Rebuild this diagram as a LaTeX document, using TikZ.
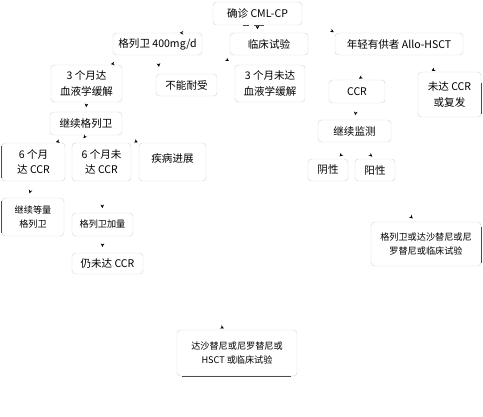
\documentclass[tikz,border=0pt]{standalone}
\usepackage{fontspec}
\newfontfamily\cjk{Noto Sans CJK SC}
\usetikzlibrary{arrows.meta, backgrounds}

\begin{document}
\begin{tikzpicture}[x=0.03cm, y=-0.03cm,
    box/.style={draw=gray!30, rounded corners=3pt, align=center, inner sep=1pt,
        font=\cjk\fontsize{9}{13}\selectfont},
    smallbox/.style={box, font=\cjk\fontsize{7.8}{12}\selectfont},
    link/.style={draw=white, -{Stealth[black, length=3pt, width=3pt]}, shorten >=3pt},
    rim/.style={draw=gray!60!black, line width=0.7pt}]
    \useasboundingbox (0,0) rectangle (483,416);

    % Primer nivel
    \node[box, minimum width=2.67cm, minimum height=0.69cm] (dx) at (257.5,13.5) {确诊 CML-CP};
    \node[box, minimum width=2.67cm, minimum height=0.66cm] (glw) at (157.5,44) {格列卫 400mg/d};
    \node[box, minimum width=2.34cm, minimum height=0.66cm] (lcsy) at (269,44) {临床试验};
    \node[box, minimum width=3.84cm, minimum height=0.66cm] (allo) at (399,44) {年轻有供者 Allo-HSCT};

    % Tres meses
    \node[box, minimum width=2.13cm, minimum height=1.11cm] (hx3) at (86.5,83.5) {3 个月达\\血液学缓解};
    \node[box, minimum width=1.83cm, minimum height=0.66cm] (bnns) at (186.5,85) {不能耐受};
    \node[box, minimum width=2.10cm, minimum height=1.11cm] (whx3) at (270,83.5) {3 个月未达\\血液学缓解};
    \node[box, minimum width=1.68cm, minimum height=0.69cm] (ccr) at (357,91.5) {CCR};
    \node[box, minimum width=1.89cm, minimum height=1.35cm] (wdccr) at (449.5,94.5) {未达 CCR\\或复发};

    % Seguimiento
    \node[box, minimum width=2.16cm, minimum height=0.69cm] (jxglw) at (86,123.5) {继续格列卫};
    \node[box, minimum width=2.19cm, minimum height=0.66cm] (jxjc) at (354.5,131) {继续监测};

    % Seis meses
    \node[box, minimum width=1.89cm, minimum height=1.14cm] (ccr6) at (33.5,162) {6 个月\\达 CCR};
    \node[box, minimum width=1.77cm, minimum height=1.14cm] (wccr6) at (101.5,162) {6 个月未\\达 CCR};
    \node[box, minimum width=2.01cm, minimum height=1.14cm,
        label={[anchor=north, yshift=-0.2cm, font=\cjk\fontsize{9}{13}\selectfont]north:疾病进展}] (jbjz) at (172.5,162) {};
    \node[box, minimum width=1.2cm, minimum height=0.66cm] (yinx) at (328,170) {阴性};
    \node[box, minimum width=1.2cm, minimum height=0.66cm] (yangx) at (375,170) {阳性};

    % Tratamiento
    \node[smallbox, minimum width=1.86cm, minimum height=1.14cm] (dlglw) at (33,217) {继续等量\\格列卫};
    \node[smallbox, minimum width=1.83cm, minimum height=0.69cm] (glwjl) at (102.5,224.5) {格列卫加量};
    \node[box, minimum width=2.13cm, minimum height=0.63cm] (rwd) at (107.5,263.5) {仍未达 CCR};
    \node[smallbox, minimum width=3.3cm, minimum height=1.32cm] (ejzl) at (426,244) {格列卫或达沙替尼或尼\\罗替尼或临床试验};
    \node[smallbox, minimum width=3.6cm, minimum height=1.38cm] (sjzl) at (237,353) {达沙替尼或尼罗替尼或\\HSCT 或临床试验};

    % Bordes oscuros
    \draw[rim] ([xshift=0.9cm]dx.south west) -- ([xshift=1.1cm]dx.south west);
    \draw[rim] ([xshift=1.25cm]dx.south west) -- ([xshift=1.55cm]dx.south west);
    \draw[rim] ([yshift=-3pt]ccr6.north west) -- ([yshift=3pt]ccr6.south west);
    \draw[rim] ([yshift=-3pt]dlglw.north west) -- ([yshift=3pt]dlglw.south west);
    \draw[rim] ([yshift=-0.35cm]wdccr.north east) -- ([yshift=3pt]wdccr.south east);
    \draw[rim] ([yshift=-0.15cm]ejzl.north east) -- ([yshift=3pt]ejzl.south east);
    \draw[rim] ([xshift=0.15cm]sjzl.south west) -- ([xshift=-0.2cm]sjzl.south east);

    % Flechas
    \begin{pgfonlayer}{background}
    \draw[link, shorten >=19pt] (dx.south west) |- (glw.north);
    \draw[link] (dx.south) -- (dx.south |- lcsy.north);
    \draw[link, shorten >=1pt] (dx.east) -- (allo.north west);
    \draw[link] (glw.south) -- ([xshift=0.63cm]hx3.north);
    \draw[link, shorten >=6pt] (glw.south) -- ([xshift=0.12cm]bnns.north west);
    \draw[link, shorten >=6pt] (glw.east) -- (whx3.north west);
    \draw[link, shorten >=2pt] (allo.south) -- (ccr.north);
    \draw[link, shorten >=2pt] (allo.south east) -- ([xshift=-0.6cm]wdccr.north);
    \draw[link, shorten >=4pt] (hx3.south) -- (jxglw.north);
    \draw[link, shorten >=4pt] (ccr.south) -- (jxjc.north);
    \draw[link] (jxglw.south) -- ([xshift=0.57cm]ccr6.north);
    \draw[link, shorten >=5pt] (jxglw.south) -- ([xshift=0.24cm]wccr6.north west);
    \draw[link, shorten >=1pt] (jxglw.south east) -- (jbjz.north west);
    \draw[link] (jxjc.south) -- ([xshift=0.27cm]yinx.north);
    \draw[link] (jxjc.south) -- (yangx.north);
    \draw[link, shorten >=4pt] (ccr6.south) -- ([xshift=-0.15cm]dlglw.north);
    \draw[link, shorten >=4pt] (wccr6.south) -- (glwjl.north);
    \draw[link, shorten >=5pt] (glwjl.south) -- ([xshift=-0.15cm]rwd.north);
    \draw[link, shorten >=4pt] (yangx.south) -- ([xshift=-0.3cm]ejzl.north);
    \draw[link] (rwd.south) -- ([xshift=-0.3cm]sjzl.north);
    \end{pgfonlayer}
\end{tikzpicture}
\end{document}
